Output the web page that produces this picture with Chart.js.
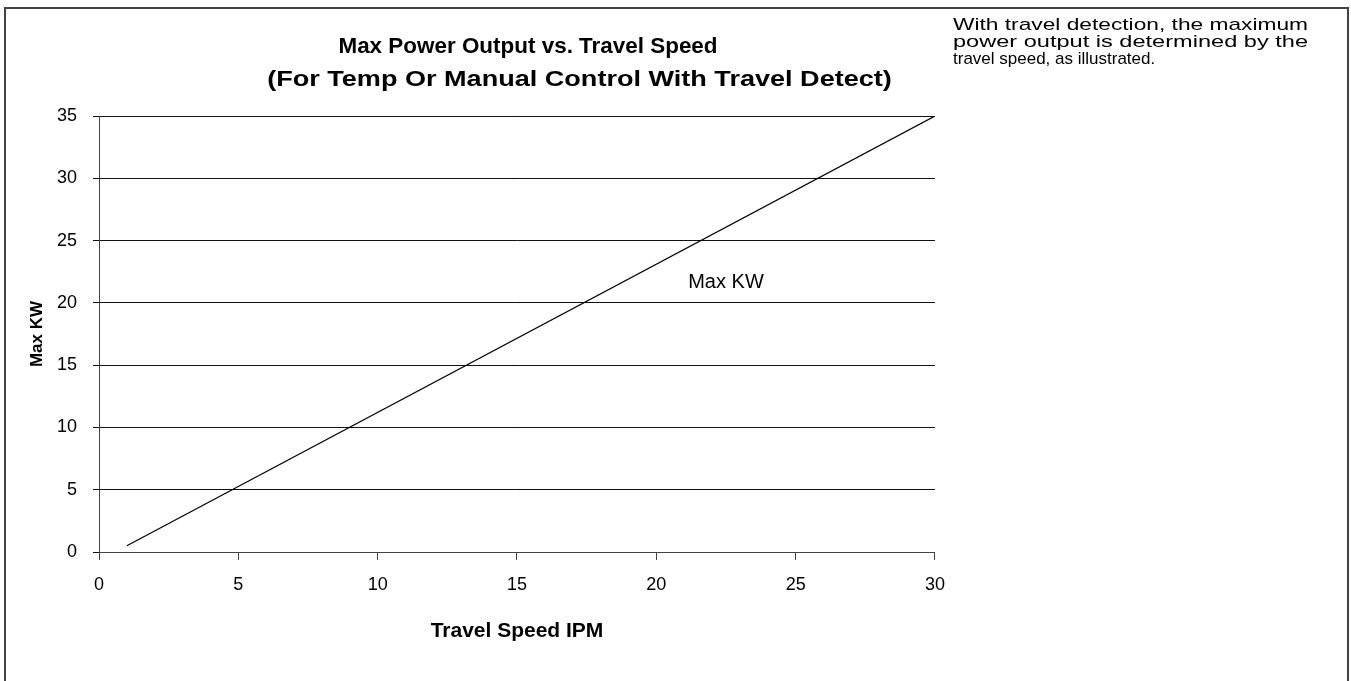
<!DOCTYPE html>
<html>
<head>
<meta charset="utf-8">
<title>Max Power Output vs. Travel Speed</title>
<script src="https://cdn.jsdelivr.net/npm/chart.js"></script>
<style>
    html, body { margin: 0; padding: 0; background: #fff; }
    body { width: 1351px; height: 681px; position: relative; overflow: hidden; font-family: "Liberation Sans", Arial, sans-serif; }
    .frame { position: absolute; left: 4px; top: 7px; width: 1341px; height: 700px; border: 2px solid #444; }
    .chart-box { position: absolute; left: 0; top: 0; width: 959px; height: 681px; }
    .note { position: absolute; left: 953px; top: 16px; width: 355px; font-size: 17px; line-height: 17px; color: #000; }
    .note span { display: inline-block; white-space: nowrap; transform-origin: 0 0; }
</style>
</head>
<body>
<div class="frame"></div>
<div class="chart-box"><canvas id="speedChart" width="959" height="681"></canvas></div>
<div class="note">
    <div><span class="fit">With travel detection, the maximum</span></div>
    <div><span class="fit">power output is determined by the</span></div>
    <div><span>travel speed, as illustrated.</span></div>
</div>

<script>
    // Travel speed (IPM) vs. allowed max power (KW)
    const travelSpeed = [1, 30];
    const maxKw = [0.5, 35];

    const xTicks = [0, 5, 10, 15, 20, 25, 30];
    const yTicks = [0, 5, 10, 15, 20, 25, 30, 35];

    const titleLines = ['Max Power Output vs. Travel Speed', '(For Temp Or Manual Control With Travel Detect)'];
    const seriesLabel = 'Max KW';
    const seriesLabelAt = { x: 22.5, y: 21.6 };

    const fontFamily = '"Liberation Sans", Arial, sans-serif';

    // the first two note lines are stretched to the full column width
    document.querySelectorAll('.note .fit').forEach(el => {
        const w = el.getBoundingClientRect().width;
        el.style.transform = 'scaleX(' + (355 / w) + ')';
    });

    // two-line heading, each line with its own centre and horizontal stretch
    const headingPlugin = {
        id: 'heading',
        afterDraw(chart) {
            const { ctx } = chart;
            const rows = [
                { text: titleLines[0], cx: 528, cy: 47, stretch: 1.02 },
                { text: titleLines[1], cx: 579.5, cy: 80, stretch: 1.23 }
            ];
            ctx.save();
            ctx.font = 'bold 22px ' + fontFamily;
            ctx.fillStyle = '#000';
            ctx.textAlign = 'center';
            ctx.textBaseline = 'middle';
            rows.forEach(r => {
                ctx.save();
                ctx.translate(r.cx, r.cy);
                ctx.scale(r.stretch, 1);
                ctx.fillText(r.text, 0, 0);
                ctx.restore();
            });
            ctx.restore();
        }
    };

    // writes the series name next to the line
    const seriesNamePlugin = {
        id: 'seriesName',
        afterDatasetsDraw(chart) {
            const { ctx, scales: { x, y } } = chart;
            ctx.save();
            ctx.font = '20px ' + fontFamily;
            ctx.fillStyle = '#000';
            ctx.textAlign = 'center';
            ctx.textBaseline = 'middle';
            ctx.fillText(seriesLabel, x.getPixelForValue(seriesLabelAt.x), y.getPixelForValue(seriesLabelAt.y));
            ctx.restore();
        }
    };

    new Chart(document.getElementById('speedChart'), {
        type: 'scatter',
        data: {
            datasets: [{
                label: seriesLabel,
                data: travelSpeed.map((s, i) => ({ x: s, y: maxKw[i] })),
                showLine: true,
                borderColor: '#000',
                borderWidth: 1.2,
                pointRadius: 0,
                pointHoverRadius: 0,
                fill: false,
                tension: 0
            }]
        },
        options: {
            responsive: false,
            animation: false,
            events: [],
            layout: { padding: { top: 116, right: 0, bottom: 0, left: 0 } },
            plugins: {
                legend: { display: false },
                tooltip: { enabled: false },
                title: { display: false }
            },
            scales: {
                x: {
                    type: 'linear',
                    min: 0,
                    max: 30,
                    afterFit(scale) { scale.height = 129; },
                    afterBuildTicks(scale) { scale.ticks = xTicks.map(v => ({ value: v })); },
                    grid: { drawOnChartArea: false, drawTicks: true, tickLength: 8, color: '#444', lineWidth: 1 },
                    border: { display: true, color: '#444', width: 1 },
                    ticks: { color: '#000', padding: 14, font: { family: fontFamily, size: 18 } },
                    title: {
                        display: true,
                        text: 'Travel Speed IPM',
                        color: '#000',
                        font: { family: fontFamily, size: 21, weight: 'bold' },
                        padding: { top: 0, bottom: 37 }
                    }
                },
                y: {
                    type: 'linear',
                    min: 0,
                    max: 35,
                    afterFit(scale) { scale.width = 99; },
                    afterBuildTicks(scale) { scale.ticks = yTicks.map(v => ({ value: v })); },
                    grid: { color: '#111', lineWidth: 1, tickLength: 6, drawTicks: true },
                    border: { display: true, color: '#444', width: 1 },
                    ticks: { color: '#000', padding: 16, font: { family: fontFamily, size: 18 } },
                    title: {
                        display: true,
                        text: 'Max KW',
                        color: '#000',
                        font: { family: fontFamily, size: 17, weight: 'bold' },
                        padding: { top: 27, bottom: 0 }
                    }
                }
            }
        },
        plugins: [headingPlugin, seriesNamePlugin]
    });
</script>
</body>
</html>
